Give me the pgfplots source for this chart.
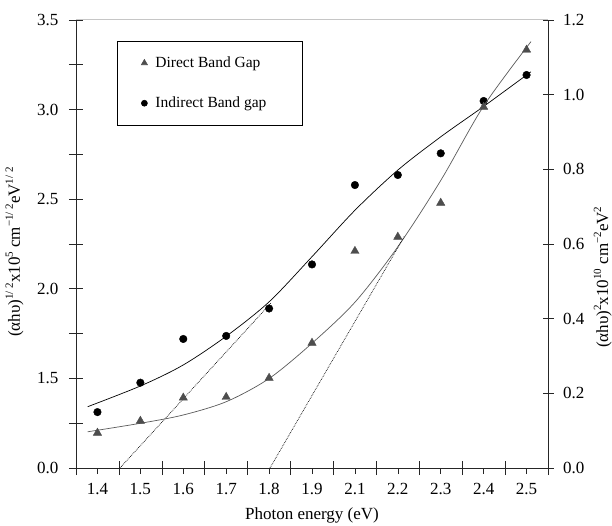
\documentclass[border=0pt]{standalone}
\usepackage{fontspec}
\setmainfont{Liberation Serif}
\usepackage{pgfplots}
\pgfplotsset{compat=1.18}
\definecolor{tri}{HTML}{4D4D4D}
\definecolor{tricurve}{HTML}{5A5A5A}
\definecolor{axcol}{HTML}{262626}
\newcommand\sups[1]{\raisebox{7pt}{\fontsize{11}{11}\selectfont #1}}
\begin{document}
\begin{tikzpicture}
\begin{axis}[
  name=ax1,
  scale only axis, width=472pt, height=448pt,
  xmin=-0.5, xmax=10.5, ymin=1, ymax=3.5,
  axis x line*=bottom, axis y line*=left,
  axis line style={axcol, line width=0.8pt, -},
  /pgf/number format/assume math mode=true,
  xtick={-0.5,0.5,1.5,2.5,3.5,4.5,5.5,6.5,7.5,8.5,9.5,10.5},
  xticklabels={},
  x tick style={axcol, line width=0.6pt},
  xtick align=center,
  extra x ticks={0,1,2,3,4,5,6,7,8,9,10},
  extra x tick labels={1.4,1.5,1.6,1.7,1.8,1.9,2.1,2.2,2.3,2.4,2.5},
  extra x tick style={tick align=outside, major tick length=6pt,
     tick label style={font=\fontsize{17}{19}\selectfont, yshift=-6pt}},
  major tick length=14pt, minor tick length=14pt,
  ytick={1,1.5,2,2.5,3,3.5},
  yticklabels={0.0,1.5,2.0,2.5,3.0,3.5},
  minor ytick={1.25,1.75,2.25,2.75,3.25},
  y tick style={axcol, line width=0.6pt},
  y tick label style={font=\fontsize{17}{19}\selectfont, xshift=-7pt},
  ytick align=center,
  xlabel={Photon energy (eV)},
  xlabel style={font=\fontsize{17}{19}\selectfont, at={(axis description cs:0.5,-0.107)}, anchor=center},
  ylabel={(αhυ)\sups{1/ 2}x10\sups{5} cm\sups{−1/ 2}eV\sups{1/ 2}},
  ylabel style={font=\fontsize{17}{19}\selectfont, at={(axis description cs:-0.13,0.482)}, anchor=center},
  clip=false,
]
\coordinate (BL) at (rel axis cs:0,0);
\coordinate (TR) at (rel axis cs:1,1);
\draw[gray!45, line width=1pt] (rel axis cs:0,1) -- (rel axis cs:1,1);
% Indirect band gap data (circles)
\addplot[only marks, mark=*, mark size=3.8pt, black, forget plot] coordinates {
(0,1.312) (1,1.476) (2,1.720) (3,1.737) (4,1.890) (5,2.136)
(6,2.579) (7,2.635) (8,2.756) (9,3.048) (10,3.193)};
% fit curve
\addplot[smooth, black, line width=0.7pt, forget plot] coordinates {
(-0.228,1.342) (1.014,1.459) (2.000,1.575) (3.011,1.737) (4.004,1.928)
(4.999,2.179) (6.008,2.440) (7.003,2.663) (8.005,2.849) (8.991,3.016) (10.103,3.211)};
% tangent
\addplot[densely dotted, black, line width=0.7pt, forget plot] coordinates {(0.524,1.0) (4.045,1.921)};
\end{axis}
\begin{axis}[
  scale only axis, width=472pt, height=448pt,
  xmin=-0.5, xmax=10.5, ymin=0, ymax=1.2,
  axis x line=none, axis y line*=right,
  axis line style={axcol, line width=0.8pt, -},
  /pgf/number format/assume math mode=true,
  /pgf/number format/fixed, /pgf/number format/fixed zerofill, /pgf/number format/precision=1,
  ytick={0,0.2,0.4,0.6,0.8,1.0,1.2},
  y tick label style={font=\fontsize{17}{19}\selectfont, xshift=6pt},
  y tick style={axcol, line width=0.6pt},
  ytick align=center, major tick length=11pt,
  ylabel={(αhυ)\sups{2}x10\sups{10} cm\sups{−2}eV\sups{2}},
  ylabel style={font=\fontsize{17}{19}\selectfont, at={(axis description cs:1.116,0.426)}, anchor=center, rotate=0},
  legend style={at={(0.087,0.953)}, anchor=north west, draw=black, line width=0.6pt,
    font=\fontsize{15.5}{17}\selectfont, inner xsep=24pt, inner ysep=13.5pt, row sep=24pt,
    column sep=6pt, legend cell align=left},
  clip=false,
]
% Direct band gap (triangles)
\addplot[only marks, mark=triangle*, mark size=4.8pt, tri, forget plot] coordinates {
(0,0.094) (1,0.126) (2,0.188) (3,0.190) (4,0.241) (5,0.335)
(6,0.581) (7,0.619) (8,0.710) (9,0.967) (10,1.120)};
\addplot[smooth, tricurve, line width=0.7pt, forget plot] coordinates {
(-0.228,0.097) (1.014,0.120) (2.000,0.142) (3.011,0.178) (4.004,0.240)
(4.999,0.334) (6.008,0.445) (7.003,0.593) (8.005,0.771) (8.991,0.968) (10.103,1.142)};
\addplot[densely dotted, black, line width=0.7pt, forget plot] coordinates {(4.021,0) (7.149,0.620)};
\addlegendimage{only marks, mark=triangle*, mark size=3.5pt, tri}
\addlegendentry{Direct Band Gap}
\addlegendimage{only marks, mark=*, mark size=3pt, black}
\addlegendentry{Indirect Band gap\rule{10pt}{0pt}}
\end{axis}
\pgfresetboundingbox
\path[use as bounding box] ([shift={(-76pt,-58pt)}]BL) rectangle ([shift={(64pt,20pt)}]TR);
\end{tikzpicture}
\end{document}
